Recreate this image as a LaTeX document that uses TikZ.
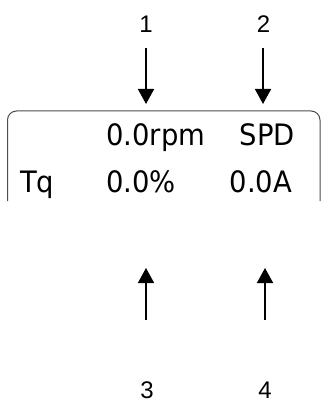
\documentclass[tikz,border=0pt]{standalone}
\usepackage{fontspec}
\setmainfont{Liberation Sans}
\newfontfamily\lcdfont[FakeStretch=0.93]{DejaVu Sans}
\usetikzlibrary{arrows.meta}
\begin{document}
\begin{tikzpicture}[x=1pt,y=-1pt,
  numlabel/.style={font=\fontsize{24}{28}\selectfont, inner sep=0pt, anchor=base},
  lcdtext/.style={font=\lcdfont\fontsize{29.5}{35}\selectfont, inner sep=0pt, anchor=base west},
  pointer/.style={line width=1.6pt, -{Triangle[width=16pt,length=15pt]}},
  panel/.style={draw=black!70, line width=1pt, rounded corners=9pt}]
\useasboundingbox (0,0) rectangle (324,403);
% labels
\node[numlabel] (n1) at (146,33) {1};
\node[numlabel] (n2) at (263.5,33) {2};
\node[numlabel] (n3) at (147,398.5) {3};
\node[numlabel] (n4) at (265,398.5) {4};
% panel
\draw[panel] (7.5,201) -- (7.5,111) -- (320,111) -- (320,201);
% display text
\node[lcdtext] (rpm) at (106,146) {0.0rpm};
\node[lcdtext] (spd) at (239.5,146) {SPD};
\node[lcdtext] (tq) at (20,192) {Tq};
\node[lcdtext] (pct) at (106,192) {0.0\%};
\node[lcdtext] (amp) at (229.5,192) {0.0A};
% arrows
\coordinate (a1s) at (146,48); \coordinate (a1e) at (146,104);
\coordinate (a2s) at (263,48); \coordinate (a2e) at (263,104);
\coordinate (a3s) at (146,320); \coordinate (a3e) at (146,268);
\coordinate (a4s) at (265,320); \coordinate (a4e) at (265,268);
\draw[pointer] (a1s) -- (a1e);
\draw[pointer] (a2s) -- (a2e);
\draw[pointer] (a3s) -- (a3e);
\draw[pointer] (a4s) -- (a4e);
\end{tikzpicture}
\end{document}
